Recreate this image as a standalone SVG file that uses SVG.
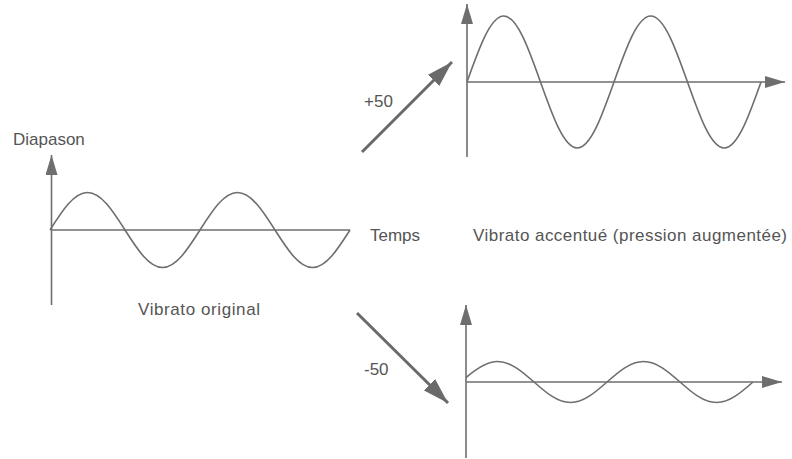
<svg xmlns="http://www.w3.org/2000/svg" width="792" height="459" viewBox="0 0 792 459">
<style>
.ax{stroke:#6e6e6e;stroke-width:1.6;fill:none}
.wave{stroke:#6e6e6e;stroke-width:1.6;fill:none}
.big{stroke:#6a6a6a;stroke-width:3;fill:none}
text{font-family:"Liberation Sans",Arial,sans-serif;fill:#555;font-size:17px}
</style>
<defs>
<marker id="axh" markerUnits="userSpaceOnUse" viewBox="0 0 20 12" refX="20" refY="6" markerWidth="20" markerHeight="12" orient="auto">
<path d="M0,0 L20,6 L0,12 z" fill="#6e6e6e"/>
</marker>
<marker id="bigh" markerUnits="userSpaceOnUse" viewBox="0 0 26 16" refX="26" refY="8" markerWidth="26" markerHeight="16" orient="auto">
<path d="M0,0 L26,8 L0,16 z" fill="#6a6a6a"/>
</marker>
</defs>
<rect width="792" height="459" fill="#fff"/>

<g id="graph-original">
<line class="ax" x1="51.5" y1="305" x2="51.5" y2="155" marker-end="url(#axh)"/>
<line class="ax" x1="51.5" y1="230" x2="350" y2="230"/>
<path class="wave" d="M50,230 c12.23,-19.21 23.93,-37.5 37.5,-37.5 c13.57,0 25.27,18.29 37.5,37.5 c12.23,19.21 23.93,37.5 37.5,37.5 c13.57,0 25.27,-18.29 37.5,-37.5 c12.23,-19.21 23.93,-37.5 37.5,-37.5 c13.57,0 25.27,18.29 37.5,37.5 c12.23,19.21 23.93,37.5 37.5,37.5 c13.57,0 25.27,-18.29 37.5,-37.5"/>
<text x="13" y="145">Diapason</text>
<text x="370" y="241" font-size="16">Temps</text>
<text x="138" y="315" textLength="122" lengthAdjust="spacing">Vibrato original</text>
</g>

<g id="graph-accentue">
<line class="ax" x1="467" y1="157" x2="467" y2="4" marker-end="url(#axh)"/>
<line class="ax" x1="467" y1="82" x2="785" y2="82" marker-end="url(#axh)"/>
<path class="wave" d="M467,82 c11.98,-33.81 23.45,-66 36.75,-66 c13.30,0 24.77,32.19 36.75,66 c11.98,33.81 23.45,66 36.75,66 c13.30,0 24.77,-32.19 36.75,-66 c11.98,-33.81 23.45,-66 36.75,-66 c13.30,0 24.77,32.19 36.75,66 c11.98,33.81 23.45,66 36.75,66 c13.30,0 24.77,-32.19 36.75,-66"/>
<text x="473" y="241" textLength="314" lengthAdjust="spacing">Vibrato accentué (pression augmentée)</text>
</g>

<g id="graph-reduit">
<line class="ax" x1="466" y1="458" x2="466" y2="305" marker-end="url(#axh)"/>
<line class="ax" x1="466" y1="382" x2="782" y2="382" marker-end="url(#axh)"/>
<path class="wave" d="M466,377.6 c10.5,-9.05 21,-16.1 31.5,-16.1 c13.21,0 24.60,10 36.5,20.5 c11.90,10.5 23.29,20.5 36.5,20.5 c13.21,0 24.60,-10 36.5,-20.5 c11.90,-10.5 23.29,-20.5 36.5,-20.5 c13.21,0 24.60,10 36.5,20.5 c11.90,10.5 23.29,20.5 36.5,20.5 c13.21,0 24.60,-10 36.5,-20.5"/>
</g>

<g id="connectors">
<line class="big" x1="362" y1="152" x2="452" y2="62" marker-end="url(#bigh)"/>
<line class="big" x1="357" y1="313" x2="448" y2="403" marker-end="url(#bigh)"/>
<text x="364" y="107" font-size="16">+50</text>
<text x="364" y="375" font-size="16">-50</text>
</g>
</svg>
